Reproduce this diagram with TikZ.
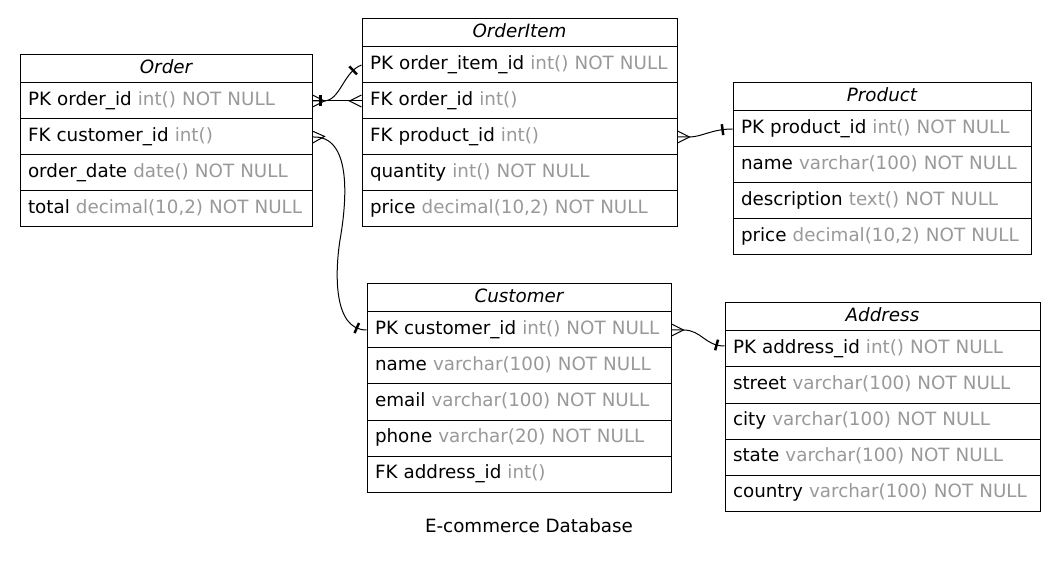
\documentclass[tikz,border=0pt]{standalone}
\usepackage{fontspec}
\setmainfont{DejaVu Sans}
\usetikzlibrary{decorations.markings,calc}
\definecolor{typegray}{gray}{0.6}
\newcommand\ty[1]{\textcolor{typegray}{#1}}
\begin{document}
\begin{tikzpicture}[x=1pt,y=-1pt,
  font=\fontsize{18.3}{20}\selectfont,
  tbox/.style={draw, line width=1pt, inner xsep=8pt, inner ysep=0pt, text height=13pt, text depth=4pt},
  row/.style={tbox, text width=#1, minimum height=36pt, align=left, execute at begin node={\hbox\bgroup}, execute at end node={\egroup}},
  ttl/.style={tbox, text width=#1, minimum height=28pt, align=center, font=\fontsize{18.3}{20}\selectfont\itshape},
  rel/.style={line width=1pt},
  crowA/.style={postaction={decorate, decoration={markings, mark=at position 0.01pt with {\draw[line width=1pt] (0pt,6pt) -- (12pt,0pt) -- (0pt,-6pt);}}}},
  crowB/.style={postaction={decorate, decoration={markings, mark=at position -0.01pt with {\draw[line width=1pt] (0pt,6pt) -- (-12pt,0pt) -- (0pt,-6pt);}}}},
  teeA/.style={postaction={decorate, decoration={markings, mark=at position #1 with {\draw[line width=2.5pt] (0pt,-5.5pt) -- (0pt,5.5pt);}}}},
  teeB/.style={postaction={decorate, decoration={markings, mark=at position -#1 with {\draw[line width=2.5pt] (0pt,-5.5pt) -- (0pt,5.5pt);}}}}
]
\fill[white] (0,0) rectangle (1058,561);
\useasboundingbox (0,0) rectangle (1058,561);

% Order
\node[ttl=276pt] (order) at (166,69) {Order};
\node[row=276pt] (order-pk) at (166,101) {PK order\_id \ty{int() NOT NULL}};
\node[row=276pt] (order-fk) at (166,137) {FK customer\_id \ty{int()}};
\node[row=276pt] (order-date) at (166,173) {order\_date \ty{date() NOT NULL}};
\node[row=276pt] (order-total) at (166,209) {total \ty{decimal(10,2) NOT NULL}};

% OrderItem
\node[ttl=299pt] (oi) at (519.5,33) {OrderItem};
\node[row=299pt] (oi-pk) at (519.5,65) {PK order\_item\_id \ty{int() NOT NULL}};
\node[row=299pt] (oi-fk1) at (519.5,101) {FK order\_id \ty{int()}};
\node[row=299pt] (oi-fk2) at (519.5,137) {FK product\_id \ty{int()}};
\node[row=299pt] (oi-qty) at (519.5,173) {quantity \ty{int() NOT NULL}};
\node[row=299pt] (oi-price) at (519.5,209) {price \ty{decimal(10,2) NOT NULL}};

% Product
\node[ttl=282pt] (prod) at (882,97) {Product};
\node[row=282pt] (prod-pk) at (882,129) {PK product\_id \ty{int() NOT NULL}};
\node[row=282pt] (prod-name) at (882,165) {name \ty{varchar(100) NOT NULL}};
\node[row=282pt] (prod-desc) at (882,201) {description \ty{text() NOT NULL}};
\node[row=282pt] (prod-price) at (882,237) {price \ty{decimal(10,2) NOT NULL}};

% Customer
\node[ttl=288pt] (cust) at (519,298) {Customer};
\node[row=288pt] (cust-pk) at (519,330) {PK customer\_id \ty{int() NOT NULL}};
\node[row=288pt] (cust-name) at (519,366) {name \ty{varchar(100) NOT NULL}};
\node[row=288pt] (cust-email) at (519,402) {email \ty{varchar(100) NOT NULL}};
\node[row=288pt] (cust-phone) at (519,438) {phone \ty{varchar(20) NOT NULL}};
\node[row=288pt] (cust-fk) at (519,474) {FK address\_id \ty{int()}};

% Address
\node[ttl=299pt] (addr) at (882.5,317) {Address};
\node[row=299pt] (addr-pk) at (882.5,349) {PK address\_id \ty{int() NOT NULL}};
\node[row=299pt] (addr-street) at (882.5,385) {street \ty{varchar(100) NOT NULL}};
\node[row=299pt] (addr-city) at (882.5,421) {city \ty{varchar(100) NOT NULL}};
\node[row=299pt] (addr-state) at (882.5,457) {state \ty{varchar(100) NOT NULL}};
\node[row=299pt] (addr-country) at (882.5,493) {country \ty{varchar(100) NOT NULL}};

\node (caption) at (529,526) {E-commerce Database};

% relations
\draw[rel, crowA, teeB=10pt] (order-pk.east) -- ++(11,0) .. controls +(17,0) and (343,72) .. (oi-pk.west);
\draw[rel, teeA=8pt, crowB] (order-pk.east) -- (oi-fk1.west);
\draw[rel, crowA, teeB=10pt] (order-fk.east) .. controls (352,135) and (347,200) .. (340,240) .. controls (335,272) and (333,330) .. (cust-pk.west);
\draw[rel, crowA, teeB=10pt] (oi-fk2.east) -- ++(12,0) .. controls +(12,0) and (712,129) .. (prod-pk.west);
\draw[rel, crowA, teeB=8pt] (cust-pk.east) -- ++(12,0) .. controls +(18,0) and (705,346) .. ($(addr-pk.west)+(0,-3)$);
\end{tikzpicture}
\end{document}
